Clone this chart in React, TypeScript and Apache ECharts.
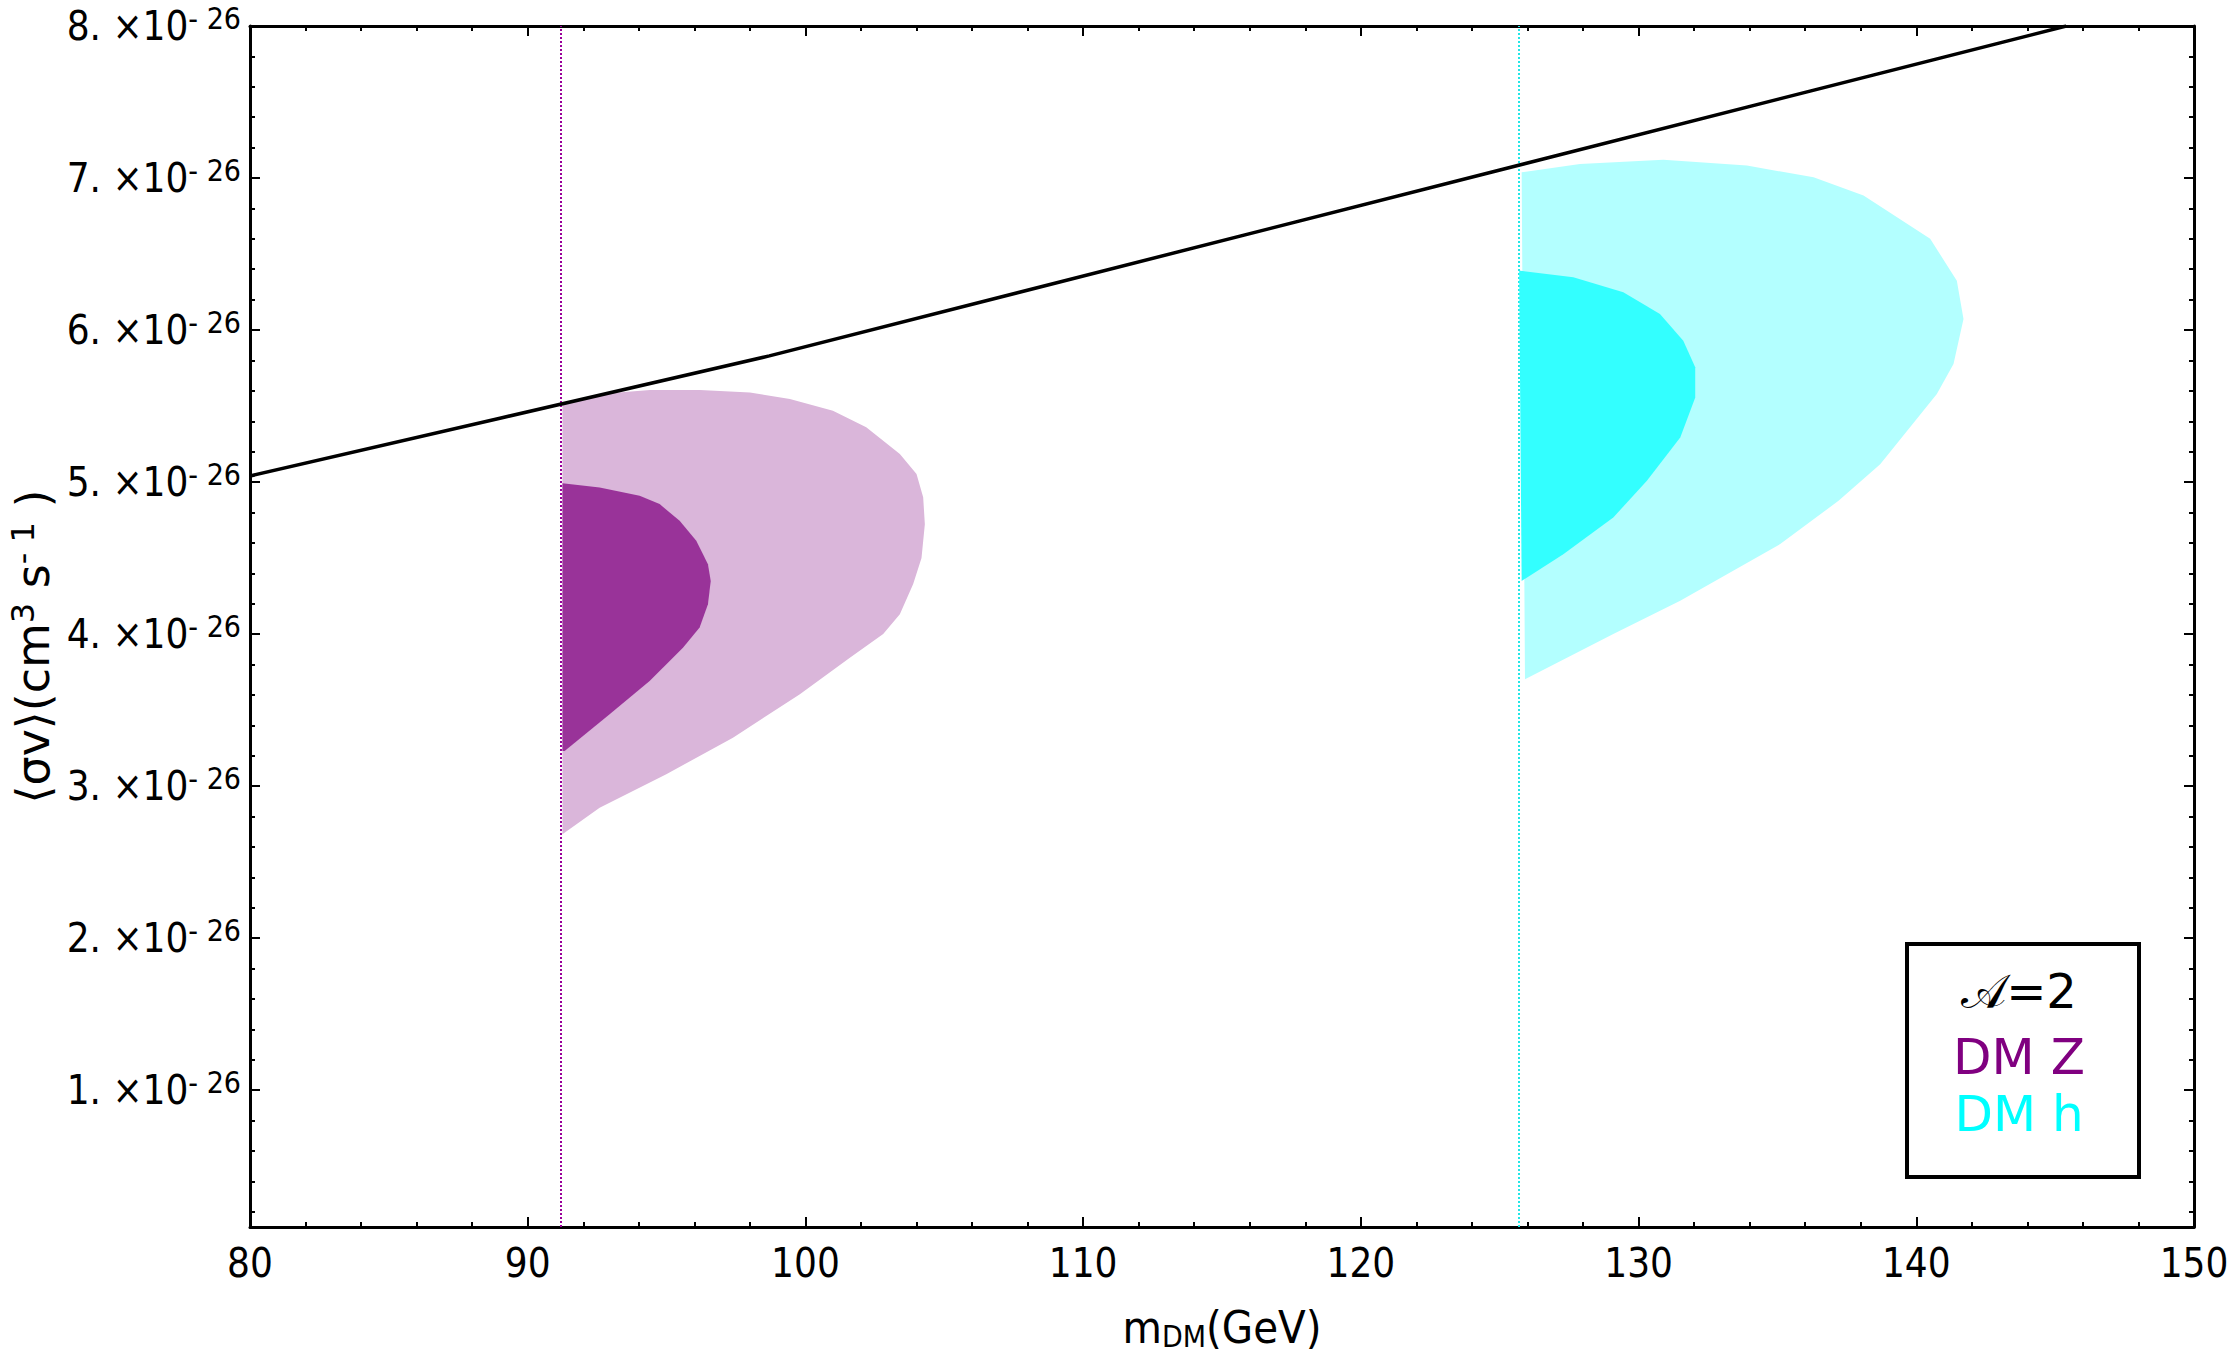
import React, { useEffect, useRef } from 'react';
import * as echarts from 'echarts';

// ---------- data (cross sections in units of 1e-26 cm^3 s^-1, masses in GeV) ----------
const xTickValues = [80, 90, 100, 110, 120, 130, 140, 150];
const yTickValues = [1, 2, 3, 4, 5, 6, 7, 8];
const yMinorTickValues = [
  0.2, 0.4, 0.6, 0.8, 1.2, 1.4, 1.6, 1.8, 2.2, 2.4, 2.6, 2.8, 3.2, 3.4, 3.6, 3.8,
  4.2, 4.4, 4.6, 4.8, 5.2, 5.4, 5.6, 5.8, 6.2, 6.4, 6.6, 6.8, 7.2, 7.4, 7.6, 7.8,
];
const zMass = 91.19;
const hMass = 125.7;

const relicLine = [
  [80, 5.04], [89, 5.42], [98.7, 5.83], [124.3, 7.02], [145.4, 8.0],
];

const dmZOuter = [
  [91.25, 5.513], [92.59, 5.579], [94.4, 5.606], [96.2, 5.606], [98.0, 5.59],
  [99.44, 5.546], [100.99, 5.469], [102.19, 5.36], [103.4, 5.184], [104.0, 5.053],
  [104.24, 4.9], [104.3, 4.723], [104.18, 4.5], [103.88, 4.33], [103.4, 4.131],
  [102.8, 4.0], [101.6, 3.845], [99.8, 3.604], [97.39, 3.319], [94.99, 3.078],
  [92.59, 2.858], [91.25, 2.683],
];
const dmZInner = [
  [91.25, 4.993], [92.59, 4.965], [94.03, 4.91], [94.75, 4.855], [95.47, 4.745],
  [96.07, 4.614], [96.49, 4.46], [96.59, 4.35], [96.49, 4.197], [96.19, 4.043],
  [95.59, 3.911], [94.39, 3.692], [92.95, 3.473], [91.33, 3.231], [91.25, 3.231],
];
const dmHOuter = [
  [125.79, 7.038], [127.89, 7.093], [130.89, 7.12], [133.9, 7.082], [136.3, 7.005],
  [138.1, 6.885], [140.5, 6.6], [141.46, 6.325], [141.7, 6.073], [141.34, 5.777],
  [140.74, 5.579], [138.7, 5.118], [137.2, 4.877], [135.1, 4.592], [131.5, 4.219],
  [129.09, 4.0], [125.91, 3.703],
];
const dmHInner = [
  [125.7, 6.391], [127.65, 6.347], [129.45, 6.248], [130.77, 6.106], [131.61, 5.93],
  [132.04, 5.755], [132.04, 5.557], [131.5, 5.294], [130.3, 5.009], [129.09, 4.767],
  [127.29, 4.526], [125.79, 4.35],
];

const legendLines = ['𝒜=2', 'DM Z', 'DM h'];

// ---------- styling ----------
const FONT = "'DejaVu Sans Condensed', 'DejaVu Sans', sans-serif";
const FONT_REG = "'DejaVu Sans', sans-serif";
const PURPLE = '#800080';
const CYAN = '#00FFFF';

const regionSeries = (name: string, pts: number[][], color: string, z: number, markX?: number, markColor?: string) => {
  const s: any = {
    name,
    type: 'custom',
    coordinateSystem: 'cartesian2d',
    xAxisIndex: 0,
    yAxisIndex: 0,
    data: pts,
    clip: true,
    silent: true,
    z,
    renderItem: (params: any, api: any) => {
      if (params.dataIndex !== 0) return { type: 'group', children: [] };
      return {
        type: 'polygon',
        shape: { points: pts.map((p) => api.coord(p)) },
        style: { fill: color, stroke: null },
      };
    },
  };
  if (markX !== undefined) {
    s.markLine = {
      symbol: 'none',
      silent: true,
      label: { show: false },
      z: 1,
      lineStyle: { type: 'dotted', color: markColor, width: 2 },
      data: [{ xAxis: markX }],
    };
  }
  return s;
};

const tickStyle = { color: '#000', width: 2 };

export default function App() {
  const ref = useRef<HTMLDivElement>(null);
  useEffect(() => {
    if (!ref.current) return;
    const chart = echarts.init(ref.current, undefined, { renderer: 'svg' });
    const yMin = 0.1;
    const yMax = 8;
    const baseY = {
      type: 'value',
      min: yMin,
      max: yMax,
      splitLine: { show: false },
    };
    chart.setOption({
      animation: false,
      backgroundColor: '#fff',
      grid: { left: 250, right: 38, top: 26, bottom: 134, containLabel: false, outerBoundsMode: 'none' },
      xAxis: [
        {
          type: 'value',
          position: 'bottom',
          min: xTickValues[0],
          max: xTickValues[xTickValues.length - 1],
          interval: 10,
          splitLine: { show: false },
          axisLine: { show: true, lineStyle: { color: '#000', width: 3 } },
          axisTick: { show: true, inside: true, length: 10, lineStyle: tickStyle },
          minorTick: { show: true, splitNumber: 5, length: 5, lineStyle: tickStyle },
          axisLabel: { show: true, color: '#000', fontSize: 40, fontFamily: FONT, margin: 16 },
          name: '{m|m}{s|DM}{m|(GeV)}',
          nameLocation: 'middle',
          nameGap: 76,
          nameTextStyle: {
            rich: {
              m: { fontSize: 45, fontFamily: FONT, color: '#000' },
              s: { fontSize: 30, fontFamily: FONT, color: '#000', padding: [18, 0, 0, 0] },
            },
          },
        },
        {
          type: 'value',
          position: 'top',
          min: xTickValues[0],
          max: xTickValues[xTickValues.length - 1],
          interval: 10,
          splitLine: { show: false },
          axisLine: { show: true, lineStyle: { color: '#000', width: 3 } },
          axisTick: { show: true, inside: true, length: 10, lineStyle: tickStyle },
          minorTick: { show: true, splitNumber: 5, length: 5, lineStyle: tickStyle },
          axisLabel: { show: false },
        },
      ],
      yAxis: [
        {
          ...baseY,
          position: 'left',
          axisLine: { show: true, lineStyle: { color: '#000', width: 3 } },
          axisTick: { show: true, inside: true, length: 10, lineStyle: tickStyle, customValues: yTickValues },
          axisLabel: {
            show: true,
            customValues: yTickValues,
            margin: 9,
            formatter: (v: number) => `{m|${v}. ×10}{e|- 26}`,
            rich: {
              m: { fontSize: 40, fontFamily: FONT, color: '#000' },
              e: { fontSize: 30, fontFamily: FONT, color: '#000', padding: [0, 0, 16, 0] },
            },
          },
          name: '{m|⟨σv⟩(cm}{e|3}{m| s}{e|- 1}{m| )}',
          nameLocation: 'middle',
          nameRotate: 90,
          nameGap: 190,
          nameTextStyle: {
            padding: [0, 40, 0, 0],
            rich: {
              m: { fontSize: 46, fontFamily: FONT_REG, color: '#000' },
              e: { fontSize: 32, fontFamily: FONT_REG, color: '#000', padding: [0, 0, 20, 0] },
            },
          },
        },
        {
          ...baseY,
          position: 'left',
          axisLine: { show: false },
          axisTick: { show: true, inside: true, length: 5, lineStyle: tickStyle, customValues: yMinorTickValues },
          axisLabel: { show: false },
        },
        {
          ...baseY,
          position: 'right',
          axisLine: { show: true, lineStyle: { color: '#000', width: 3 } },
          axisTick: { show: true, inside: true, length: 10, lineStyle: tickStyle, customValues: yTickValues },
          axisLabel: { show: false },
        },
        {
          ...baseY,
          position: 'right',
          axisLine: { show: false },
          axisTick: { show: true, inside: true, length: 5, lineStyle: tickStyle, customValues: yMinorTickValues },
          axisLabel: { show: false },
        },
      ],
      series: [
        regionSeries('DM Z outer', dmZOuter, '#DAB6DA', 2, zMass, '#990099'),
        regionSeries('DM Z inner', dmZInner, '#993399', 3),
        regionSeries('DM h outer', dmHOuter, '#B3FFFF', 2, hMass, '#22E6E6'),
        regionSeries('DM h inner', dmHInner, '#33FFFF', 3),
        {
          name: 'relic',
          type: 'line',
          xAxisIndex: 0,
          yAxisIndex: 0,
          data: relicLine,
          showSymbol: false,
          symbol: 'none',
          silent: true,
          z: 5,
          lineStyle: { color: '#000', width: 3.5 },
        },
      ],
      graphic: [
        {
          type: 'group',
          left: 1905,
          top: 942,
          children: [
            {
              type: 'rect',
              shape: { x: 0, y: 0, width: 232, height: 233 },
              style: { fill: '#fff', stroke: '#000', lineWidth: 4 },
            },
            {
              type: 'text',
              x: 112,
              y: 47,
              style: {
                text: legendLines[0],
                font: `48px ${FONT_REG}`,
                fill: '#000',
                textAlign: 'center',
                textVerticalAlign: 'middle',
              },
            },
            {
              type: 'text',
              x: 112,
              y: 113,
              style: {
                text: legendLines[1],
                font: `50px ${FONT_REG}`,
                fill: PURPLE,
                textAlign: 'center',
                textVerticalAlign: 'middle',
              },
            },
            {
              type: 'text',
              x: 112,
              y: 170,
              style: {
                text: legendLines[2],
                font: `50px ${FONT_REG}`,
                fill: CYAN,
                textAlign: 'center',
                textVerticalAlign: 'middle',
              },
            },
          ],
        },
      ],
    });
    return () => chart.dispose();
  }, []);
  return (
    <div
      ref={ref}
      style={{ position: 'fixed', left: 0, top: 0, width: 2232, height: 1361, background: '#fff' }}
    />
  );
}
